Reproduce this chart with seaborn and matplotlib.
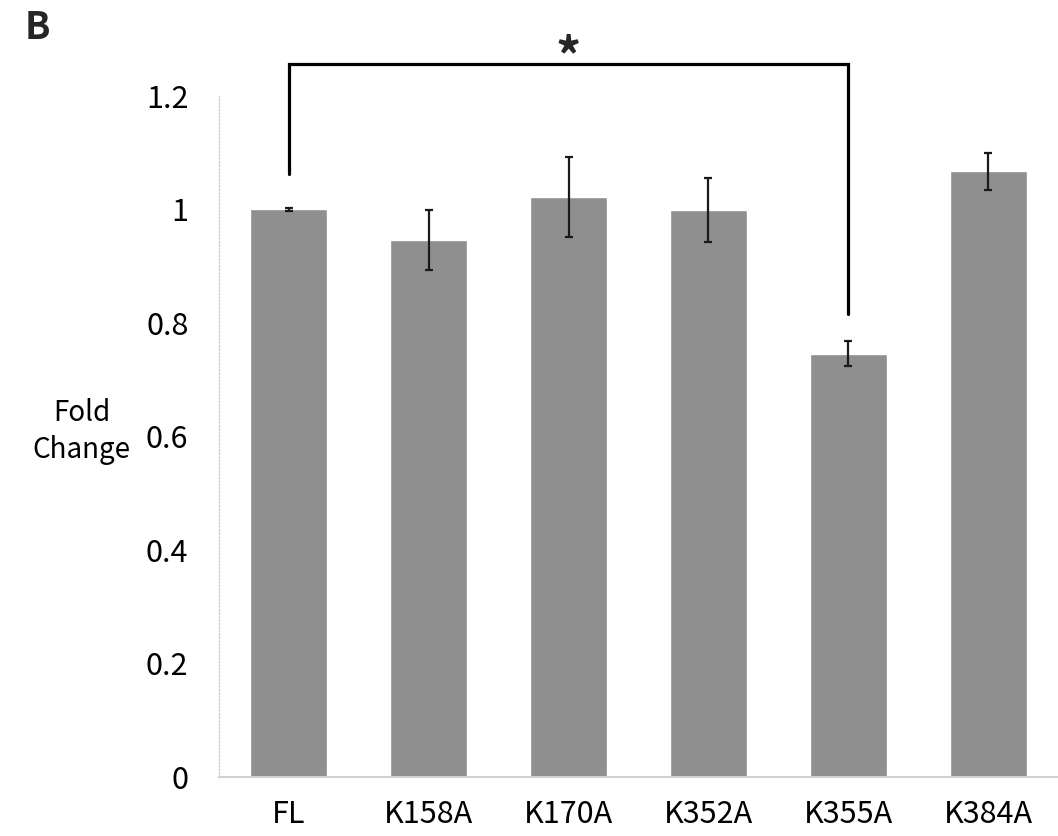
import matplotlib
matplotlib.use("Agg")
import matplotlib.pyplot as plt
import seaborn as sns
import pandas as pd
import numpy as np

categories = ["FL", "K158A", "K170A", "K352A", "K355A", "K384A"]
fold_change = [1.0, 0.946, 1.022, 0.999, 0.746, 1.067]
errors = [0.002, 0.053, 0.071, 0.057, 0.022, 0.033]
yticks = [0, 0.2, 0.4, 0.6, 0.8, 1, 1.2]
ytick_labels = ["0", "0.2", "0.4", "0.6", "0.8", "1", "1.2"]

sns.set_theme(style="white")
plt.rcParams["font.family"] = ["Noto Sans CJK SC", "DejaVu Sans"]
plt.rcParams["font.weight"] = "medium"

df = pd.DataFrame({"cat": categories, "val": fold_change})

fig = plt.figure(figsize=(10.58, 8.36), dpi=100)
ax = fig.add_axes([0.207, 0.0706, 0.793, 0.8146])
sns.barplot(data=df, x="cat", y="val", color="#8f8f8f", saturation=1,
            width=0.55, ax=ax, errorbar=None)
ax.errorbar(np.arange(len(categories)), fold_change, yerr=errors, fmt="none",
            ecolor="#1a1a1a", elinewidth=1.6, capsize=3.2, capthick=1.6)

ax.set_ylim(0, 1.2)
ax.set_xlim(-0.5, 5.5)
ax.set_yticks(yticks)
ax.set_yticklabels(ytick_labels, fontsize=22, color="black")
ax.tick_params(axis="y", length=0, pad=22)
ax.tick_params(axis="x", length=0, pad=16, labelsize=22, labelcolor="black")
ax.set_xlabel("")
ax.set_ylabel("Fold\nChange", fontsize=20, rotation=0, color="black",
              va="center", ha="center", linespacing=1.3)
ax.yaxis.set_label_coords(-0.164, 0.507)

for s in ["top", "right"]:
    ax.spines[s].set_visible(False)
ax.spines["left"].set_color("#cfcfcf")
ax.spines["left"].set_linestyle((0, (1, 1.5)))
ax.spines["left"].set_linewidth(1.0)
ax.spines["bottom"].set_color("#d0d0d0")
ax.spines["bottom"].set_linewidth(1.5)

# significance bracket between FL and K355A
y_top = 1.256
ax.plot([0, 0, 4, 4], [1.063, y_top, y_top, 0.816], color="black", lw=2.3,
        clip_on=False, solid_joinstyle="miter")
ax.text(2.0, 1.263, "*", ha="center", va="center", fontsize=36,
        fontweight="bold", clip_on=False)

fig.text(0.023, 0.967, "B", fontsize=27, fontweight="bold", ha="left", va="center")

fig.savefig("out.png", dpi=100, facecolor="white")
